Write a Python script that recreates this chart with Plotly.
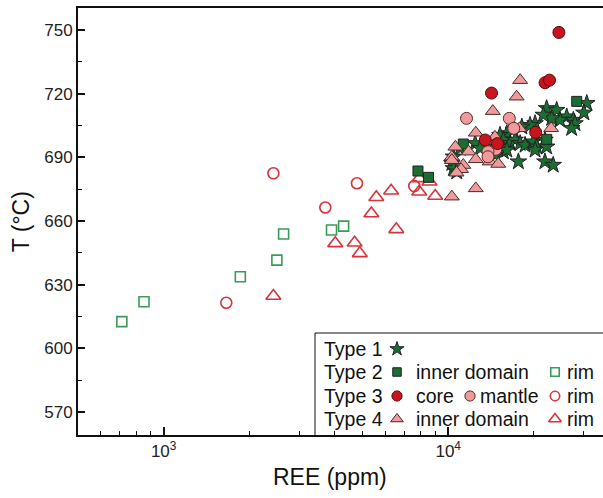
import plotly.graph_objects as go

# ---------------- data (REE ppm, T °C) ----------------
type1_x = [22180, 24060, 26100, 27540, 27900, 27150, 24700, 23100, 21600, 30700, 30000,
           20200, 19400, 18150, 16940, 16070, 15210, 15630, 16500, 17180, 17900, 18630,
           19920, 20480, 20200, 21880, 22180, 17650, 21880, 23400, 12440, 12950, 11020,
           10440, 10300, 10440, 10720, 15630, 16070, 14820, 14620]
type1_y = [713.1, 712.3, 709.2, 707.6, 706.0, 703.7, 707.6, 708.4, 710.0, 715.5, 711.0,
           706.0, 705.2, 704.4, 702.9, 701.3, 700.5, 698.2, 696.6, 698.2, 696.6, 695.8,
           697.4, 695.0, 693.5, 698.2, 695.0, 688.0, 688.0, 686.4, 696.6, 694.3, 694.3,
           690.3, 687.2, 684.8, 683.2, 692.7, 693.5, 695.0, 691.1]

type2_inner_x = [7830, 8530, 11300, 22200, 28300]
type2_inner_y = [683.6, 680.6, 696.3, 698.5, 716.4]
type2_rim_x = [713, 853, 1860, 2500, 2640, 3890, 4290]
type2_rim_y = [612.6, 622.0, 633.8, 641.6, 653.9, 655.8, 657.6]

type3_core_x = [14200, 13500, 14900, 20300, 24500, 21900, 22700]
type3_core_y = [720.3, 698.2, 696.5, 701.8, 748.9, 725.2, 726.4]
type3_mantle_x = [11600, 16400, 17000, 14700, 13800, 13800]
type3_mantle_y = [708.4, 708.4, 703.7, 693.8, 692.7, 690.3]
type3_rim_x = [1660, 2430, 3700, 4780, 7600]
type3_rim_y = [621.5, 682.5, 666.4, 677.8, 676.5]

type4_inner_x = [17400, 14350, 17900, 12500, 14600, 17800, 23000, 10600, 11800, 10300,
                 12500, 14000, 15000, 10300, 11300, 11100, 10700, 12500, 10300]
type4_inner_y = [718.6, 711.8, 726.4, 701.6, 699.7, 703.7, 703.7, 695.0, 692.7, 690.3,
                 689.1, 688.0, 686.9, 688.7, 686.4, 684.4, 682.8, 675.4, 671.5]
type4_rim_x = [2430, 4010, 4690, 4890, 5370, 5590, 6300, 6570, 7910, 8600, 7910, 9000]
type4_rim_y = [624.7, 649.5, 649.8, 644.8, 663.6, 671.2, 674.3, 656.1, 680.1, 678.5, 673.8, 671.8]

x_tick_vals = [1000, 10000]
x_tick_text = ["10<sup>3</sup>", "10<sup>4</sup>"]
x_minor_vals = [600, 700, 800, 900, 2000, 3000, 4000, 5000, 6000, 7000, 8000, 9000,
                20000, 30000]
y_tick_vals = [570, 600, 630, 660, 690, 720, 750]
y_minor_vals = [585, 615, 645, 675, 705, 735]

# legend rows: labels
legend_rows = ["Type 1", "Type 2", "Type 3", "Type 4"]

# ---------------- styles ----------------
DKGREEN = "#1b6e32"
GREEN_OPEN = "#3a9a5a"
RED = "#c8141e"
PINK = "#f19a9c"
RED_OPEN = "#d8323a"
EDGE = "#222222"
FONT = "Arial, Liberation Sans, sans-serif"

styles = {
    "t1": dict(symbol="star", size=12.5, color=DKGREEN, line=dict(color=EDGE, width=1)),
    "t2i": dict(symbol="square", size=10, color=DKGREEN, line=dict(color=EDGE, width=1)),
    "t2r": dict(symbol="square-open", size=10, color=GREEN_OPEN, line=dict(color=GREEN_OPEN, width=1.6)),
    "t3c": dict(symbol="circle", size=12, color=RED, line=dict(color="#5a0a0a", width=1)),
    "t3m": dict(symbol="circle", size=12, color=PINK, line=dict(color="#5a2a2a", width=1)),
    "t3r": dict(symbol="circle-open", size=11, color=RED_OPEN, line=dict(color=RED_OPEN, width=1.6)),
    "t4i": dict(symbol="triangle-up", size=13, color=PINK, line=dict(color="#4a2a2a", width=1)),
    "t4r": dict(symbol="triangle-up-open", size=13, color=RED_OPEN, line=dict(color=RED_OPEN, width=1.6)),
}

fig = go.Figure()

def add(x, y, key, xa="x", ya="y"):
    fig.add_trace(go.Scatter(x=x, y=y, mode="markers", marker=styles[key],
                             showlegend=False, hoverinfo="skip", xaxis=xa, yaxis=ya))

add(type2_rim_x, type2_rim_y, "t2r")
add(type3_rim_x, type3_rim_y, "t3r")
add(type4_rim_x, type4_rim_y, "t4r")
add(type1_x, type1_y, "t1")
add(type2_inner_x, type2_inner_y, "t2i")
add(type4_inner_x, type4_inner_y, "t4i")
add(type3_mantle_x, type3_mantle_y, "t3m")
add(type3_core_x, type3_core_y, "t3c")

# ---------------- custom legend (overlay axis in pixel units) ----------------
W, H = 603, 498
L, R, T, B = 78, 0, 8, 63
px_x = [L, W - R]
px_y = [H - B, T]

row_y = [349, 372, 396, 419]
col_type_x = 322
col_m1_x = 397
leg_items = [  # (row, marker x, style, label x, label)
    (0, col_m1_x, "t1", None, None),
    (1, col_m1_x, "t2i", 414, "inner domain"),
    (1, 555, "t2r", 565, "rim"),
    (2, col_m1_x, "t3c", 414, "core"),
    (2, 470, "t3m", 478, "mantle"),
    (2, 555, "t3r", 565, "rim"),
    (3, col_m1_x, "t4i", 414, "inner domain"),
    (3, 555, "t4r", 565, "rim"),
]

fig.add_shape(type="rect", xref="x2", yref="y2", x0=315, x1=610, y0=333, y1=436,
              line=dict(color="#111111", width=1), fillcolor="white", layer="below")

LEG_FONT = dict(size=19.5, color="#111111", family=FONT)
annotations = []
for i, lab in enumerate(legend_rows):
    annotations.append(dict(x=col_type_x, y=row_y[i], xref="x2", yref="y2", text=lab,
                            showarrow=False, xanchor="left", yanchor="middle", font=LEG_FONT))
for row, mx, key, lx, lab in leg_items:
    st = dict(styles[key])
    st["size"] = st["size"] * 0.85
    fig.add_trace(go.Scatter(x=[mx], y=[row_y[row]], mode="markers", marker=st,
                             showlegend=False, hoverinfo="skip", xaxis="x2", yaxis="y2"))
    if lab:
        annotations.append(dict(x=lx, y=row_y[row], xref="x2", yref="y2", text=lab,
                                showarrow=False, xanchor="left", yanchor="middle", font=LEG_FONT))

annotations.append(dict(x=(330 - L) / (W - L - R), y=-0.098, xref="paper", yref="paper",
                        text="REE (ppm)", showarrow=False, xanchor="center", yanchor="middle",
                        font=dict(size=23, color="#111111", family=FONT)))
annotations.append(dict(x=-0.108, y=(H - B - 222) / (H - B - T), xref="paper", yref="paper",
                        text="T (°C)", textangle=-90, showarrow=False, xanchor="center",
                        yanchor="middle", font=dict(size=23, color="#111111", family=FONT)))

fig.update_layout(
    width=W, height=H,
    margin=dict(l=L, r=R, t=T, b=B, pad=0),
    paper_bgcolor="white", plot_bgcolor="white",
    font=dict(family=FONT, color="#222222"),
    annotations=annotations,
    xaxis=dict(type="log", range=[2.69897, 4.5441], showgrid=False, zeroline=False,
               showline=True, linecolor="#111111", linewidth=2, mirror=True,
               ticks="inside", ticklen=8, tickwidth=1.5, tickcolor="#111111",
               tickmode="array", tickvals=x_tick_vals, ticktext=x_tick_text,
               tickfont=dict(size=17, color="#222222", family=FONT),
               minor=dict(tickmode="array", tickvals=x_minor_vals, ticks="inside",
                          ticklen=4, tickwidth=1.2, tickcolor="#111111", showgrid=False)),
    yaxis=dict(range=[559.2, 760.4], showgrid=False, zeroline=False,
               showline=True, linecolor="#111111", linewidth=2, mirror=False,
               ticks="inside", ticklen=7, tickwidth=1.5, tickcolor="#111111",
               tickmode="array", tickvals=y_tick_vals,
               tickfont=dict(size=17, color="#222222", family=FONT),
               minor=dict(tickmode="array", tickvals=y_minor_vals,
                          ticks="inside", ticklen=4, tickwidth=1.2, tickcolor="#111111",
                          showgrid=False)),
    xaxis2=dict(range=px_x, overlaying="x", visible=False, fixedrange=True),
    yaxis2=dict(range=px_y, overlaying="y", visible=False, fixedrange=True),
)

fig.write_html("out.html")
